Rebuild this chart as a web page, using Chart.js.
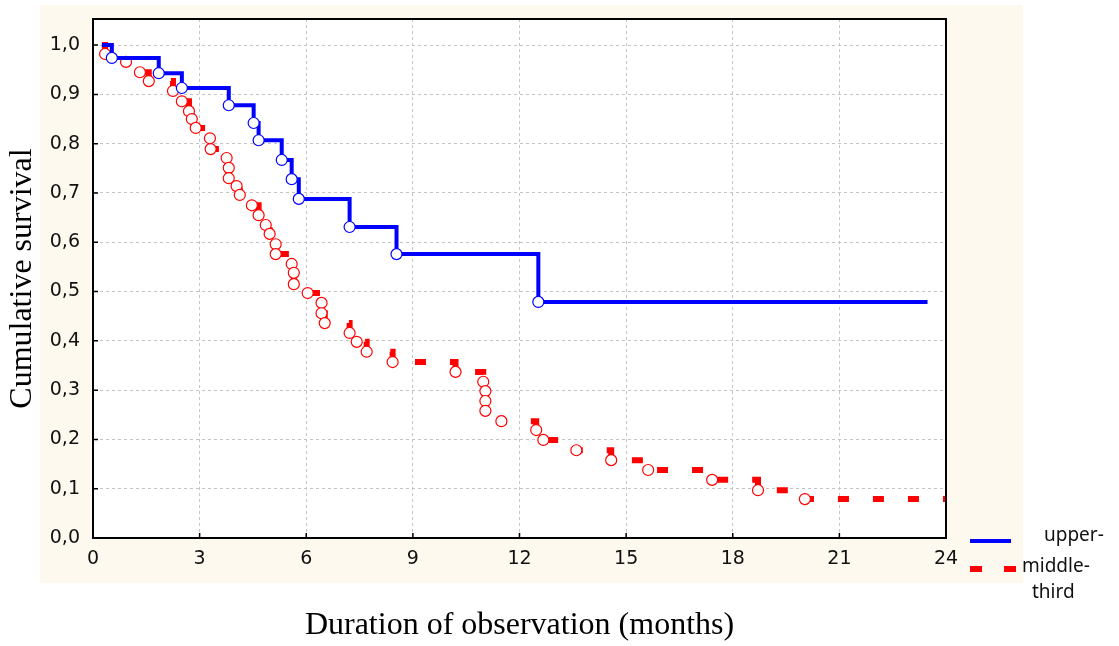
<!DOCTYPE html>
<html>
<head>
<meta charset="utf-8">
<script src="https://cdn.jsdelivr.net/npm/chart.js@4.4.1/dist/chart.umd.min.js"></script>
<style>
    html, body { margin: 0; padding: 0; background: #ffffff; }
    #wrap { width: 1119px; height: 646px; }
</style>
</head>
<body>
<div id="wrap"><canvas id="survivalChart" width="1119" height="646"></canvas></div>
<script>
// Survie cumulée - tiers supérieur
const upperMonths   = [0.25, 0.53, 1.85, 2.5, 3.82, 4.52, 4.66, 5.31, 5.59, 5.79, 7.22, 8.54, 12.53, 23.48];
const upperSurvival = [1.0, 0.974, 0.943, 0.913, 0.878, 0.842, 0.807, 0.767, 0.728, 0.688, 0.631, 0.576, 0.479, 0.479];

// Survie cumulée - tiers moyen
const middleMonths = [0.25, 0.34, 0.93, 1.32, 1.57, 2.25, 2.5, 2.70, 2.78, 2.89, 3.29, 3.31,
    3.76, 3.82, 3.82, 4.04, 4.13, 4.47, 4.66, 4.86, 4.97, 5.14, 5.14, 5.59, 5.65, 5.65,
    6.04, 6.43, 6.43, 6.52, 7.22, 7.42, 7.70, 8.43, 10.2, 10.98, 11.04, 11.04, 11.04,
    11.49, 12.47, 12.67, 13.6, 14.58, 15.62, 17.42, 18.71, 20.03, 24];
const middleSurvival = [1.0, 0.982, 0.966, 0.945, 0.927, 0.907, 0.886, 0.866, 0.850, 0.832, 0.811, 0.789,
    0.771, 0.751, 0.730, 0.714, 0.696, 0.675, 0.655, 0.635, 0.617, 0.596, 0.576, 0.556, 0.538, 0.515,
    0.497, 0.477, 0.456, 0.436, 0.416, 0.398, 0.378, 0.357, 0.337, 0.317, 0.298, 0.278, 0.258,
    0.237, 0.219, 0.199, 0.178, 0.158, 0.138, 0.118, 0.097, 0.079, 0.079];

const seriesLabels = ['upper-third', 'middle-third'];
const xTicks = [0, 3, 6, 9, 12, 15, 18, 21, 24];
const yTicks = [0, 0.1, 0.2, 0.3, 0.4, 0.5, 0.6, 0.7, 0.8, 0.9, 1.0];

function toPoints(xs, ys) {
    return xs.map((x, i) => ({ x: x, y: ys[i] }));
}

// pas de cercle sur le premier et le dernier point
function markerRadius(xs) {
    return xs.map((x, i) => (i === 0 || i === xs.length - 1) ? 0 : 5.5);
}

const tickFont = { family: 'DejaVu Sans', size: 19 };
const titleFont = { family: 'Liberation Serif', size: 32 };

// fond crème autour de la zone du graphique, cadre et petites graduations
const framePlugin = {
    id: 'frame',
    beforeDraw(chart) {
        const { ctx, chartArea: a } = chart;
        ctx.save();
        ctx.fillStyle = '#fef9ee';
        ctx.fillRect(a.left - 53, a.top - 14, a.right - a.left + 130, a.bottom - a.top + 59);
        ctx.fillStyle = '#ffffff';
        ctx.fillRect(a.left, a.top, a.right - a.left, a.bottom - a.top);
        ctx.restore();
    },
    afterDraw(chart) {
        const { ctx, chartArea: a, scales } = chart;
        ctx.save();
        ctx.strokeStyle = '#000';
        ctx.lineWidth = 2;
        ctx.strokeRect(a.left, a.top, a.right - a.left, a.bottom - a.top);
        ctx.lineWidth = 1.5;
        ctx.beginPath();
        yTicks.forEach(v => {
            const py = scales.y.getPixelForValue(v);
            ctx.moveTo(a.left, py);
            ctx.lineTo(a.left + 5, py);
        });
        xTicks.forEach(v => {
            const px = scales.x.getPixelForValue(v);
            ctx.moveTo(px, a.bottom);
            ctx.lineTo(px, a.bottom - 5);
        });
        ctx.stroke();

        // légende
        const lx = a.right + 24;
        const sets = chart.data.datasets;
        ctx.lineCap = 'butt';
        ctx.strokeStyle = sets[0].borderColor;
        ctx.lineWidth = 4;
        ctx.beginPath();
        ctx.moveTo(lx, a.bottom + 3);
        ctx.lineTo(lx + 41, a.bottom + 3);
        ctx.stroke();
        ctx.strokeStyle = sets[1].borderColor;
        ctx.lineWidth = 6;
        ctx.setLineDash([12, 22]);
        ctx.beginPath();
        ctx.moveTo(lx, a.bottom + 31);
        ctx.lineTo(lx + 46, a.bottom + 31);
        ctx.stroke();
        ctx.setLineDash([]);

        ctx.fillStyle = '#111';
        ctx.font = '19px "Noto Sans"';
        ctx.textBaseline = 'middle';
        ctx.textAlign = 'left';
        const upperParts = sets[0].label.split('-');
        const middleParts = sets[1].label.split('-');
        ctx.fillText(upperParts[0] + '-', lx + 74, a.bottom - 2);
        ctx.fillText(middleParts[0] + '-', lx + 52, a.bottom + 29);
        ctx.fillText(middleParts[1], lx + 62, a.bottom + 55);
        ctx.restore();
    }
};

const ctx = document.getElementById('survivalChart').getContext('2d');

const survivalChart = new Chart(ctx, {
    type: 'line',
    data: {
        datasets: [{
            label: seriesLabels[0],
            data: toPoints(upperMonths, upperSurvival),
            borderColor: '#0000ff',
            borderWidth: 4,
            stepped: 'before',
            fill: false,
            pointRadius: markerRadius(upperMonths),
            pointBackgroundColor: '#ffffff',
            pointBorderColor: '#0000ff',
            pointBorderWidth: 1.2
        }, {
            label: seriesLabels[1],
            data: toPoints(middleMonths, middleSurvival),
            borderColor: '#ff0000',
            borderWidth: 6,
            borderDash: [11, 24],
            borderCapStyle: 'butt',
            stepped: 'before',
            fill: false,
            pointRadius: markerRadius(middleMonths),
            pointBackgroundColor: '#ffffff',
            pointBorderColor: '#ff0000',
            pointBorderWidth: 1.2
        }]
    },
    options: {
        responsive: false,
        animation: false,
        layout: {
            padding: { top: 19, right: 173, left: 0, bottom: 0 }
        },
        scales: {
            x: {
                type: 'linear',
                min: 0,
                max: 24,
                afterBuildTicks: scale => { scale.ticks = xTicks.map(v => ({ value: v })); },
                afterFit: scale => {
                    scale.height = 108;
                    scale.paddingLeft = 0;
                    scale.paddingRight = 0;
                },
                ticks: {
                    font: tickFont,
                    color: '#111',
                    padding: 10,
                    maxRotation: 0,
                    callback: v => String(v)
                },
                grid: {
                    color: '#c4c4c4',
                    lineWidth: 1,
                    drawTicks: false
                },
                border: { display: true, color: '#000', width: 2, dash: [3, 3] },
                title: {
                    display: true,
                    text: 'Duration of observation (months)',
                    font: titleFont,
                    color: '#000',
                    padding: { top: 0, bottom: 1 }
                }
            },
            y: {
                type: 'linear',
                min: 0,
                max: 1.053,
                afterBuildTicks: scale => { scale.ticks = yTicks.map(v => ({ value: v })); },
                afterFit: scale => {
                    scale.width = 93;
                    scale.paddingTop = 0;
                    scale.paddingBottom = 0;
                },
                ticks: {
                    font: tickFont,
                    color: '#111',
                    padding: 13,
                    callback: v => v.toFixed(1).replace('.', ',')
                },
                grid: {
                    color: '#c4c4c4',
                    lineWidth: 1,
                    drawTicks: false
                },
                border: { display: true, color: '#000', width: 2, dash: [3, 3] },
                title: {
                    display: true,
                    text: 'Cumulative survival',
                    font: titleFont,
                    color: '#000',
                    padding: { top: 3, bottom: 0 }
                }
            }
        },
        plugins: {
            legend: { display: false },
            tooltip: { enabled: false }
        }
    },
    plugins: [framePlugin]
});
</script>
</body>
</html>
